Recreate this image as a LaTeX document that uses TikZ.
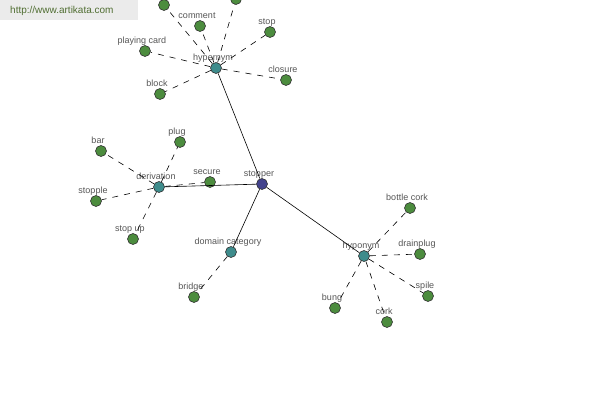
\documentclass[tikz,border=0pt]{standalone}
\usepackage{fontspec}
\setmainfont{Liberation Sans}
\usetikzlibrary{positioning}
\definecolor{leafgreen}{RGB}{76,140,62}
\definecolor{relteal}{RGB}{62,140,140}
\definecolor{rootblue}{RGB}{66,66,140}
\definecolor{lblgray}{RGB}{85,85,85}
\definecolor{wmgreen}{RGB}{80,110,50}
\tikzset{
  dot/.style={circle, draw=black!80, line width=0.6pt, minimum size=11pt, inner sep=0pt},
  leaf/.style={dot, fill=leafgreen},
  rel/.style={dot, fill=relteal},
  root/.style={dot, fill=rootblue},
  lbl/.style={font=\fontsize{9}{10}\selectfont, text=lblgray, inner sep=0pt, text depth=0pt, xshift=-3pt, label distance=2pt},
  link/.style={line width=0.6pt},
  sublink/.style={line width=0.6pt, dash pattern=on 6pt off 6pt}
}

\begin{document}
\begin{tikzpicture}[x=1pt, y=-1pt]
            \useasboundingbox (0,0) rectangle (600,400);
            \clip (0,0) rectangle (600,400);

            % watermark
            \fill[black!8] (0,0) rectangle (138,20);
            \node[font=\fontsize{10}{12}\selectfont, text=wmgreen, anchor=west, inner sep=0pt] (site) at (10,11) {http://www.artikata.com};

            % centre and relations
            \node[root, label={[lbl]90:stopper}] (stopper) at (262,184) {};
            \node[rel, label={[lbl]90:hypernym}] (hypernym) at (216,68) {};
            \node[rel, label={[lbl]90:derivation}] (derivation) at (159,187) {};
            \node[rel, label={[lbl]90:domain category}] (domain) at (231,252) {};
            \node[rel, label={[lbl]90:hyponym}] (hyponym) at (364,256) {};

            % hypernym
            \node[leaf] (top1) at (164,5) {};
            \node[leaf] (top2) at (236,-1) {};
            \node[leaf, label={[lbl]90:comment}] (comment) at (200,26) {};
            \node[leaf, label={[lbl]90:stop}] (stop) at (270,32) {};
            \node[leaf, label={[lbl]90:playing card}] (card) at (145,51) {};
            \node[leaf, label={[lbl]90:closure}] (closure) at (286,80) {};
            \node[leaf, label={[lbl]90:block}] (block) at (160,94) {};

            % derivation
            \node[leaf, label={[lbl]90:bar}] (bar) at (101,151) {};
            \node[leaf, label={[lbl]90:plug}] (plug) at (180,142) {};
            \node[leaf, label={[lbl]90:secure}] (secure) at (210,182) {};
            \node[leaf, label={[lbl]90:stopple}] (stopple) at (96,201) {};
            \node[leaf, label={[lbl]90:stop up}] (stopup) at (133,239) {};

            % domain category
            \node[leaf, label={[lbl]90:bridge}] (bridge) at (194,297) {};

            % hyponym
            \node[leaf, label={[lbl]90:bottle cork}] (bottlecork) at (410,208) {};
            \node[leaf, label={[lbl]90:drainplug}] (drainplug) at (420,254) {};
            \node[leaf, label={[lbl]90:spile}] (spile) at (428,296) {};
            \node[leaf, label={[lbl]90:bung}] (bung) at (335,308) {};
            \node[leaf, label={[lbl]90:cork}] (cork) at (387,322) {};

            \draw[link] (stopper) -- (hypernym);
            \draw[link] (stopper) -- (derivation);
            \draw[link] (stopper) -- (domain);
            \draw[link] (stopper) -- (hyponym);

            \foreach \a in {top1, top2, comment, stop, card, closure, block}
                \draw[sublink] (hypernym) -- (\a);
            \foreach \a in {bar, plug, secure, stopple, stopup}
                \draw[sublink] (derivation) -- (\a);
            \draw[sublink] (domain) -- (bridge);
            \foreach \a in {bottlecork, drainplug, spile, bung, cork}
                \draw[sublink] (hyponym) -- (\a);
        \end{tikzpicture}
\end{document}
